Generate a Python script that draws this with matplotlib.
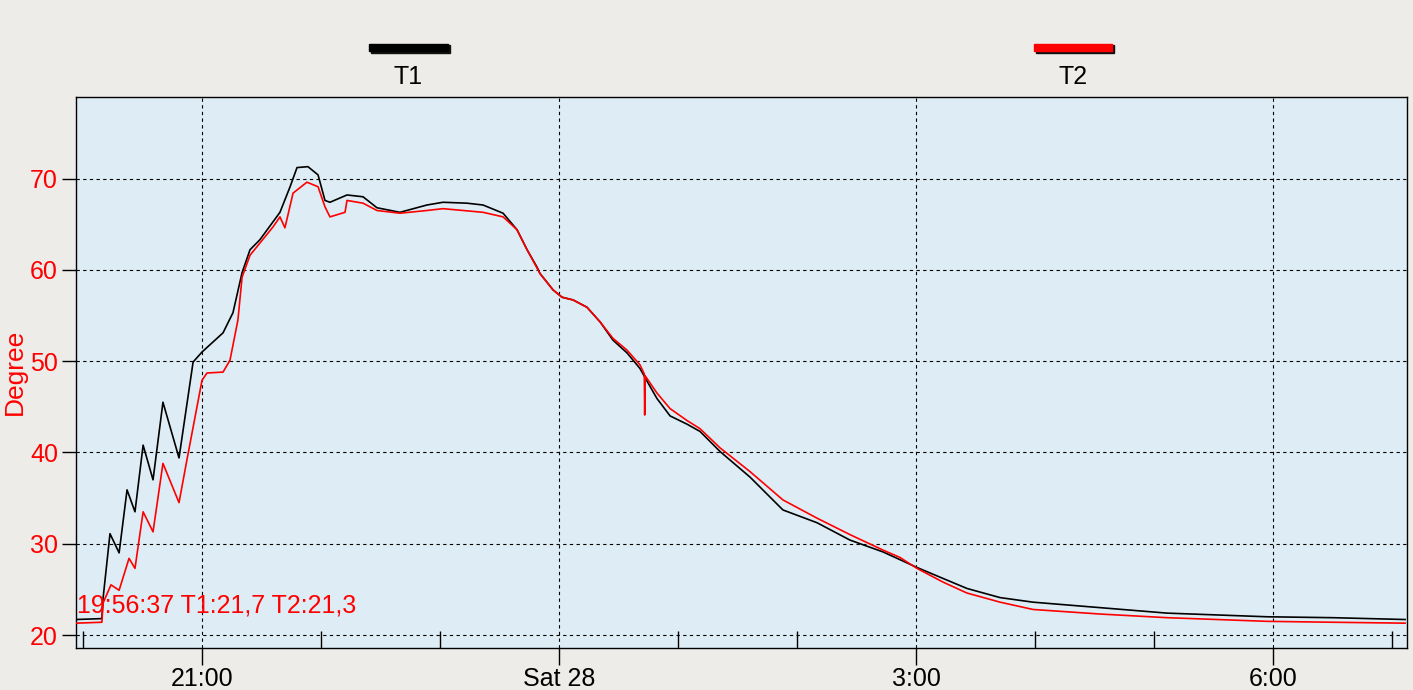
import matplotlib
matplotlib.use("Agg")
import matplotlib.pyplot as plt
from matplotlib.ticker import FixedLocator

plt.rcParams['font.family'] = ['Liberation Sans', 'DejaVu Sans']

# time in minutes relative to midnight (Sat 28 00:00)
t1_min = [-243.5, -230.5, -229.9, -226.4, -221.8, -217.8, -213.8, -209.7, -204.7,
          -199.7, -191.6, -184.5, -180.0, -169.4, -164.4, -159.8, -155.8, -150.8,
          -140.7, -135.6, -132.1, -126.6, -121.5, -118.0, -115.5, -106.9, -98.8,
          -91.8, -80.2, -66.6, -58.5, -46.4, -38.3, -28.2, -21.2, -16.1, -11.1,
          -9.6, -3.0, 1.5, 7.1, 14.1, 20.7, 27.2, 34.3, 40.8, 44.4, 49.4, 56.0,
          64.5, 71.1, 81.2, 96.3, 112.9, 130.1, 146.7, 163.4, 180.5, 193.6, 205.7,
          222.4, 239.0, 272.8, 306.6, 357.0, 390.3, 426.6]
t1_val = [21.7, 21.8, 24.0, 31.1, 29.0, 35.9, 33.5, 40.8, 37.0,
          45.5, 39.4, 49.9, 51.0, 53.1, 55.3, 59.7, 62.2, 63.3,
          66.3, 69.1, 71.2, 71.3, 70.4, 67.6, 67.4, 68.2, 68.0,
          66.8, 66.3, 67.1, 67.4, 67.3, 67.1, 66.2, 64.4, 62.2, 60.3,
          59.6, 57.8, 57.0, 56.7, 55.9, 54.3, 52.3, 50.9, 49.2, 47.8, 45.9, 44.0,
          43.1, 42.3, 40.1, 37.3, 33.7, 32.3, 30.4, 29.1, 27.4, 26.2, 25.1,
          24.1, 23.6, 23.0, 22.4, 22.0, 21.9, 21.7]

t2_min = [-243.5, -230.5, -229.9, -225.9, -221.8, -216.8, -213.8, -209.7, -204.7,
          -199.7, -191.6, -187.6, -180.0, -177.5, -169.4, -165.9, -161.9, -159.8,
          -155.8, -144.2, -140.7, -138.2, -134.1, -127.1, -121.5, -118.0, -115.5,
          -107.9, -106.9, -98.8, -91.8, -80.2, -66.6, -58.5, -38.3, -28.2, -21.2,
          -16.1, -9.6, -3.0, 1.5, 7.1, 14.1, 20.7, 27.2, 34.3, 40.8, 43.0, 43.2,
          43.4, 45.0, 49.4, 56.0, 64.5, 71.1, 81.2, 96.3, 112.9, 130.1, 146.7,
          163.4, 171.9, 180.5, 193.6, 205.7, 222.4, 239.0, 272.8, 306.6, 357.0,
          390.3, 426.6]
t2_val = [21.3, 21.4, 23.5, 25.5, 24.9, 28.4, 27.3, 33.5, 31.3,
          38.8, 34.5, 39.2, 47.9, 48.7, 48.8, 50.1, 54.5, 59.2,
          61.6, 64.7, 65.8, 64.6, 68.4, 69.6, 69.1, 66.9, 65.8,
          66.3, 67.6, 67.3, 66.5, 66.2, 66.5, 66.7, 66.3, 65.8, 64.4,
          62.2, 59.6, 57.8, 57.0, 56.7, 55.9, 54.3, 52.5, 51.2, 49.6, 48.6, 44.1,
          48.4, 47.9, 46.5, 44.8, 43.5, 42.6, 40.5, 37.9, 34.8, 32.8, 31.0,
          29.3, 28.5, 27.3, 25.8, 24.6, 23.6, 22.8, 22.3, 21.9, 21.5,
          21.4, 21.3]

series_names = ['T1', 'T2']
series_colors = ['#000000', '#ff0000']
major_tick_hours = [-3, 0, 3, 6]
major_tick_labels = ['21:00', 'Sat 28', '3:00', '6:00']
minor_tick_hours = [-4, -2, -1, 1, 2, 4, 5, 7]
y_ticks = [20, 30, 40, 50, 60, 70]
annotation = '19:56:37 T1:21,7 T2:21,3'

FS = 18

fig = plt.figure(figsize=(14.13, 6.90), dpi=100)
fig.patch.set_facecolor('#eeece9')
ax = fig.add_axes([76/1413, 1-648/690, (1407-76)/1413, (648-97)/690])
ax.set_facecolor('#deedf5')

ax.plot([m/60 for m in t1_min], t1_val, color=series_colors[0], lw=1.2, zorder=3)
ax.plot([m/60 for m in t2_min], t2_val, color=series_colors[1], lw=1.2, zorder=4)

ax.set_xlim(-4.059, 7.126)
ax.set_ylim(18.58, 78.93)

ax.xaxis.set_major_locator(FixedLocator(major_tick_hours))
ax.set_xticklabels(major_tick_labels)
ax.xaxis.set_minor_locator(FixedLocator(minor_tick_hours))
ax.set_yticks(y_ticks)
ax.tick_params(axis='x', which='major', direction='out', length=12, width=1,
               labelsize=FS, labelcolor='black', pad=2)
ax.tick_params(axis='x', which='minor', direction='in', length=12, width=1)
ax.tick_params(axis='y', direction='out', length=10, width=1, labelsize=FS,
               labelcolor='#ff0000', pad=3)
ax.grid(True, which='major', color='black', linestyle=(0, (3, 3)), lw=0.8)
for s in ax.spines.values():
    s.set_color('black')
    s.set_linewidth(1)

fig.text(15/1413, 1 - 372/690, 'Degree', color='#ff0000', fontsize=19,
         rotation=90, ha='center', va='center')
ax.text(0.001, (648 - 605)/551, annotation, transform=ax.transAxes, color='#ff0000',
        fontsize=FS, ha='left', va='center', zorder=5)

# legend bars
legend_x = [(369, 448), (1034, 1112)]
for (x0, x1), name, col in zip(legend_x, series_names, series_colors):
    shadow = plt.Rectangle((x0/1413 + 2/1413, 1 - 53/690), (x1 - x0)/1413, 8/690,
                           transform=fig.transFigure, color='#111111', zorder=1)
    bar = plt.Rectangle((x0/1413, 1 - 51/690), (x1 - x0)/1413, 7/690,
                        transform=fig.transFigure, color=col, zorder=2)
    fig.patches.extend([shadow, bar])
    fig.text((x0 + x1)/2/1413, 1 - 77/690, name, ha='center', va='center',
             fontsize=FS, color='black')

fig.savefig('out.png', dpi=100, facecolor=fig.get_facecolor())
